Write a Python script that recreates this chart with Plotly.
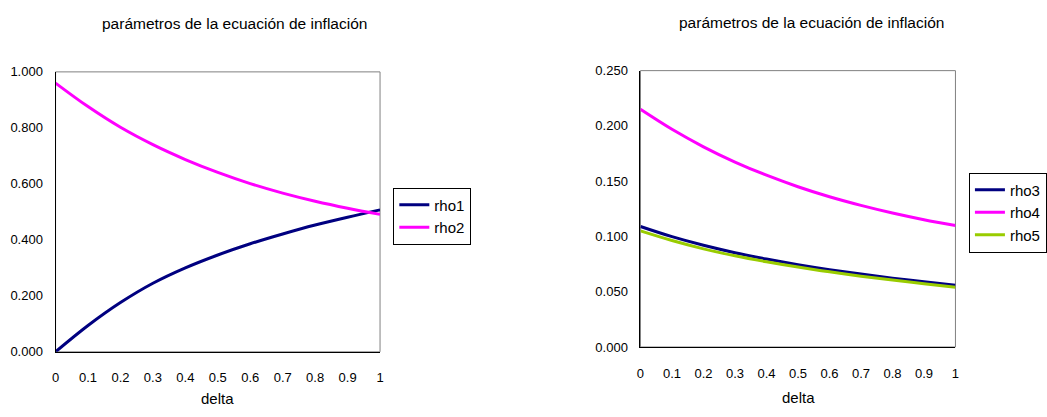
import plotly.graph_objects as go

delta = [0, 0.1, 0.2, 0.3, 0.4, 0.5, 0.6, 0.7, 0.8, 0.9, 1.0]
rho1 = [0.000, 0.094, 0.176, 0.245, 0.300, 0.346, 0.386, 0.421, 0.453, 0.481, 0.507]
rho2 = [0.960, 0.876, 0.802, 0.740, 0.687, 0.641, 0.601, 0.567, 0.538, 0.513, 0.491]
rho3 = [0.109, 0.0998, 0.0920, 0.0853, 0.0796, 0.0745, 0.0700, 0.0660, 0.0623, 0.0590, 0.0558]
rho4 = [0.215, 0.1969, 0.1811, 0.1673, 0.1554, 0.1450, 0.1359, 0.1281, 0.1212, 0.1152, 0.1100]
rho5 = [0.105, 0.0963, 0.0888, 0.0825, 0.0771, 0.0723, 0.0680, 0.0641, 0.0606, 0.0573, 0.0541]

title_text = "parámetros de la ecuación de inflación"
xlabel = "delta"

NAVY = "#000080"
MAGENTA = "#FF00FF"
GREEN = "#99CC00"
W, H = 1047, 417
FONT = "Liberation Sans, Arial, sans-serif"

fig = go.Figure()
fig.add_trace(go.Scatter(x=delta, y=rho1, name="rho1", mode="lines", line=dict(color=NAVY, width=3, shape="spline"), xaxis="x", yaxis="y", legend="legend"))
fig.add_trace(go.Scatter(x=delta, y=rho2, name="rho2", mode="lines", line=dict(color=MAGENTA, width=3, shape="spline"), xaxis="x", yaxis="y", legend="legend"))
fig.add_trace(go.Scatter(x=delta, y=rho3, name="rho3", mode="lines", line=dict(color=NAVY, width=3, shape="spline"), xaxis="x2", yaxis="y2", legend="legend2"))
fig.add_trace(go.Scatter(x=delta, y=rho4, name="rho4", mode="lines", line=dict(color=MAGENTA, width=3, shape="spline"), xaxis="x2", yaxis="y2", legend="legend2"))
fig.add_trace(go.Scatter(x=delta, y=rho5, name="rho5", mode="lines", line=dict(color=GREEN, width=3, shape="spline"), xaxis="x2", yaxis="y2", legend="legend2"))

def xa(domain, anchor):
    return dict(domain=domain, anchor=anchor, range=[0, 1], dtick=0.1, tick0=0,
                showgrid=False, zeroline=False, showline=True, linecolor="black", linewidth=1,
                ticks="outside", ticklen=14, tickcolor="rgba(0,0,0,0)",
                tickfont=dict(size=13, color="black", family=FONT), fixedrange=True)

def ya(domain, anchor, rng, dt):
    return dict(domain=domain, anchor=anchor, range=rng, dtick=dt, tick0=0, tickformat=".3f",
                showgrid=False, zeroline=False, showline=True, linecolor="black", linewidth=1,
                ticks="outside", ticklen=9, tickcolor="rgba(0,0,0,0)",
                tickfont=dict(size=13, color="black", family=FONT), fixedrange=True)

x1d = [52 / W, 379.3 / W]
y1d = [1 - 357.7 / H, 1 - 67.3 / H]
x2d = [642 / W, 959.7 / W]
y2d = [1 - 352.7 / H, 1 - 66 / H]

fig.update_layout(
    width=W, height=H, margin=dict(l=0, r=0, t=0, b=0),
    paper_bgcolor="white", plot_bgcolor="white",
    font=dict(family=FONT, color="black", size=13),
    xaxis=xa(x1d, "y"), yaxis=ya(y1d, "x", [0, 1.0], 0.2),
    xaxis2=xa(x2d, "y2"), yaxis2=ya(y2d, "x2", [0, 0.25], 0.05),
    legend=dict(x=392.7 / W, y=1 - 187.3 / H, xanchor="left", yanchor="top",
                bordercolor="black", borderwidth=1, bgcolor="white",
                font=dict(size=15, family=FONT), itemwidth=30, tracegroupgap=0),
    legend2=dict(x=973.3 / W, y=1 - 171.7 / H, xanchor="left", yanchor="top",
                 bordercolor="black", borderwidth=1, bgcolor="white",
                 font=dict(size=15, family=FONT), itemwidth=30, tracegroupgap=0),
    showlegend=True,
)

for xr, yr in (("x domain", "y domain"), ("x2 domain", "y2 domain")):
    fig.add_shape(type="rect", xref=xr, yref=yr, x0=0, x1=1, y0=0, y1=1,
                  line=dict(color="#808080", width=1), layer="below")

fig.add_annotation(text=title_text, x=233 / W, y=1 - 17 / H, xref="paper", yref="paper",
                   showarrow=False, font=dict(size=15.5, family=FONT), xanchor="center", yanchor="middle")
fig.add_annotation(text=title_text, x=815 / W, y=1 - 16 / H, xref="paper", yref="paper",
                   showarrow=False, font=dict(size=15.5, family=FONT), xanchor="center", yanchor="middle")
fig.add_annotation(text=xlabel, x=215 / W, y=1 - 406 / H, xref="paper", yref="paper",
                   showarrow=False, font=dict(size=15, family=FONT), xanchor="center", yanchor="middle")
fig.add_annotation(text=xlabel, x=801 / W, y=1 - 405 / H, xref="paper", yref="paper",
                   showarrow=False, font=dict(size=15, family=FONT), xanchor="center", yanchor="middle")

fig.write_html("out.html")
